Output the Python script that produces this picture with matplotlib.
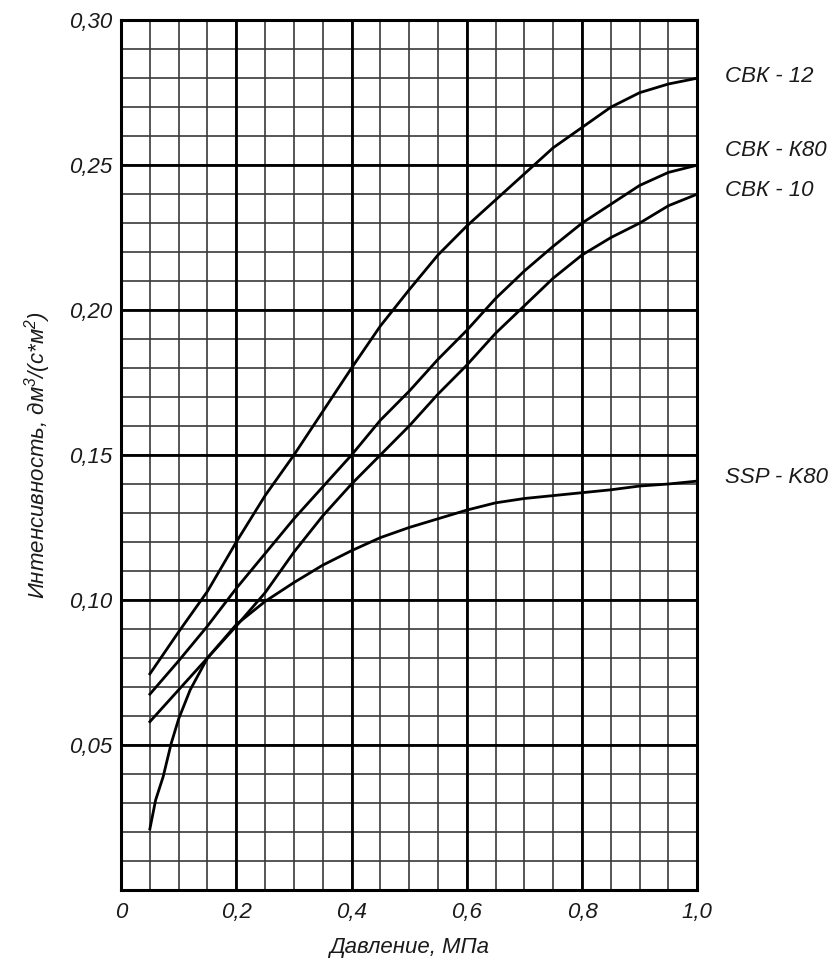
import matplotlib.pyplot as plt
import numpy as np

plt.rcParams['font.family'] = ['Liberation Sans', 'DejaVu Sans']
plt.rcParams['font.style'] = 'italic'
plt.rcParams['mathtext.fontset'] = 'custom'
plt.rcParams['mathtext.rm'] = 'Liberation Sans:italic'
plt.rcParams['mathtext.it'] = 'Liberation Sans:italic'

# pressure, MPa
pressure = [0.05, 0.10, 0.15, 0.20, 0.25, 0.30, 0.35, 0.40, 0.45, 0.50,
            0.55, 0.60, 0.65, 0.70, 0.75, 0.80, 0.85, 0.90, 0.95, 1.00]
svk_12 = [0.0745, 0.089, 0.103, 0.120, 0.136, 0.150, 0.165, 0.180, 0.1945, 0.207,
          0.219, 0.229, 0.238, 0.247, 0.256, 0.263, 0.270, 0.275, 0.278, 0.280]
svk_k80 = [0.0675, 0.079, 0.091, 0.104, 0.116, 0.128, 0.139, 0.150, 0.162, 0.172,
           0.183, 0.193, 0.204, 0.2135, 0.222, 0.230, 0.2365, 0.243, 0.2475, 0.250]
svk_10 = [0.058, 0.069, 0.080, 0.091, 0.1025, 0.1165, 0.129, 0.140, 0.150, 0.160,
          0.171, 0.181, 0.192, 0.2015, 0.211, 0.219, 0.225, 0.230, 0.236, 0.240]

pressure_ssp = [0.05, 0.06, 0.073, 0.087, 0.10, 0.12, 0.15, 0.20, 0.25, 0.30,
                0.35, 0.40, 0.45, 0.50, 0.55, 0.60, 0.65, 0.70, 0.75, 0.80,
                0.85, 0.90, 0.95, 1.00]
ssp_k80 = [0.021, 0.031, 0.039, 0.0505, 0.059, 0.069, 0.080, 0.0915, 0.0995, 0.106,
           0.112, 0.117, 0.1215, 0.125, 0.128, 0.131, 0.1335, 0.135, 0.136, 0.137,
           0.138, 0.1393, 0.140, 0.141]

curve_names = ['СВК - 12', 'СВК - К80', 'СВК - 10', 'SSP - K80']
label_y = [0.2807, 0.255, 0.2414, 0.1424]

x_ticks = [0, 0.2, 0.4, 0.6, 0.8, 1.0]
x_tick_labels = ['0', '0,2', '0,4', '0,6', '0,8', '1,0']
y_ticks = [0.05, 0.10, 0.15, 0.20, 0.25, 0.30]
y_tick_labels = ['0,05', '0,10', '0,15', '0,20', '0,25', '0,30']

fs = 16
txt_color = '#1a1a1a'

fig = plt.figure(figsize=(8.35, 9.63), dpi=100)
ax = fig.add_axes([0.145, 0.076, 0.69, 0.903])

ax.set_xlim(0, 1.0)
ax.set_ylim(0, 0.30)

# fine grid
for xv in np.arange(0.05, 1.0, 0.05):
    ax.axvline(xv, color='#3a3a3a', lw=1.2, zorder=1)
for yv in np.arange(0.01, 0.30, 0.01):
    ax.axhline(yv, color='#3a3a3a', lw=1.2, zorder=1)
# heavy grid
for xv in [0.2, 0.4, 0.6, 0.8]:
    ax.axvline(xv, color='black', lw=2.0, zorder=2)
for yv in [0.05, 0.10, 0.15, 0.20, 0.25]:
    ax.axhline(yv, color='black', lw=2.0, zorder=2)

for s in ax.spines.values():
    s.set_linewidth(2.2)
    s.set_color('black')
    s.set_zorder(5)

for ys in [svk_12, svk_k80, svk_10]:
    ax.plot(pressure, ys, color='black', lw=2.0, zorder=4)
ax.plot(pressure_ssp, ssp_k80, color='black', lw=2.0, zorder=4)

for name, yl in zip(curve_names, label_y):
    ax.text(1.049, yl, name, fontsize=fs, style='italic', color=txt_color,
            ha='left', va='center', clip_on=False)

ax.set_xticks(x_ticks)
ax.set_xticklabels(x_tick_labels)
ax.set_yticks(y_ticks)
ax.set_yticklabels(y_tick_labels)
ax.tick_params(length=0, labelsize=fs, colors=txt_color)
ax.tick_params(axis='x', pad=9)
ax.tick_params(axis='y', pad=6)
for lab in ax.get_xticklabels() + ax.get_yticklabels():
    lab.set_style('italic')

ax.set_xlabel('Давление, МПа', fontsize=fs, style='italic', labelpad=10, color=txt_color)
ax.set_ylabel(r'Интенсивность, дм$^{3}$/(с*м$^{2}$)', fontsize=fs, style='italic',
              labelpad=12, color=txt_color)

fig.savefig('out.png', dpi=100)
